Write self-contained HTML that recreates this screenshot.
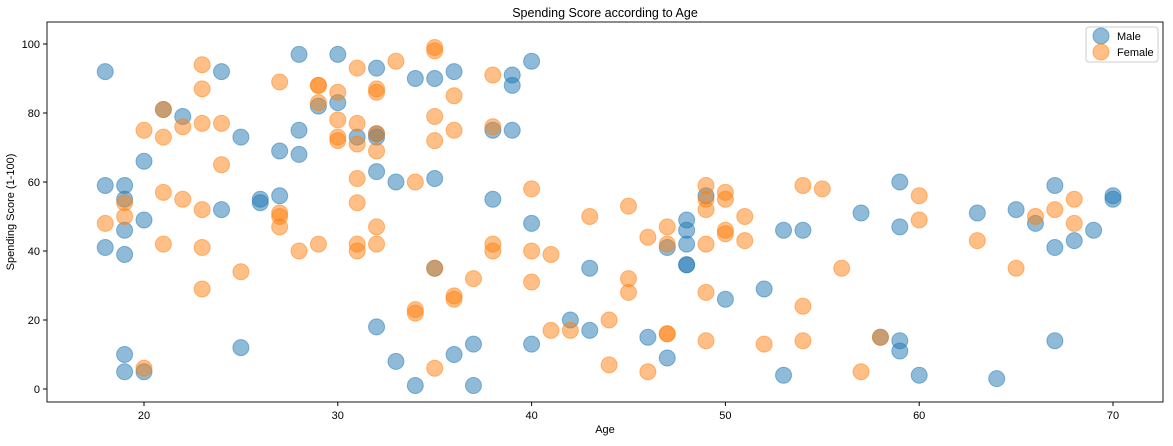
<!DOCTYPE html>
<html><head><meta charset="utf-8"><style>
body{margin:0;background:#fff;font-family:"Liberation Sans",sans-serif;}
svg text{font-family:"Liberation Sans",sans-serif;fill:#000;}
</style></head><body>
<svg width="1173" height="441">
<rect x="0" y="0" width="1173" height="441" fill="#fff"></rect>
<text x="605" y="17" text-anchor="middle" font-size="12.5">Spending Score according to Age</text>
<g id="plot"></g>
<rect x="47" y="22" width="1116" height="380" fill="none" stroke="#000" stroke-width="0.9"></rect>
<g id="axes"></g>
<text x="605" y="433" text-anchor="middle" font-size="11">Age</text>
<text transform="translate(14,212) rotate(-90)" text-anchor="middle" font-size="11">Spending Score (1-100)</text>
<g>
<rect x="1086" y="27" width="72" height="35" rx="3" fill="#fff" stroke="#ccc"></rect>
<g><circle cx="1101" cy="36" r="8" fill="#1f77b4" fill-opacity="0.5" stroke="#1f77b4" stroke-opacity="0.5"></circle><text x="1117" y="40" font-size="11">Male</text></g>
<g><circle cx="1101" cy="52" r="8" fill="#ff7f0e" fill-opacity="0.5" stroke="#ff7f0e" stroke-opacity="0.5"></circle><text x="1117" y="56" font-size="11">Female</text></g>
</g>
</svg>
<script>
const xTicks=[20,30,40,50,60,70];
const yTicks=[0,20,40,60,80,100];
const maleAge=[18,18,18,19,19,19,19,19,19,20,20,20,21,22,24,24,25,25,26,26,27,27,28,28,28,29,30,30,31,32,32,32,32,32,33,33,34,34,35,35,35,36,36,37,37,38,38,39,39,39,40,40,40,42,43,43,46,47,47,48,48,48,48,48,49,50,52,53,53,54,57,58,59,59,59,59,60,63,64,65,66,67,67,67,68,69,70,70];
const maleScore=[92,59,41,55,59,46,39,10,5,66,49,5,81,79,92,52,73,12,55,54,69,56,97,75,68,82,97,83,73,93,74,73,63,18,60,8,90,1,90,61,35,92,10,13,1,75,55,91,88,75,95,48,13,20,35,17,15,41,9,49,46,42,36,36,56,26,29,46,4,46,51,15,60,47,14,11,4,51,3,52,48,59,41,14,43,46,56,55];
const femaleAge=[18,19,19,20,20,21,21,21,21,22,22,23,23,23,23,23,23,24,24,25,27,27,27,27,28,29,29,29,29,30,30,30,30,31,31,31,31,31,31,31,32,32,32,32,32,32,33,34,34,34,35,35,35,35,35,35,36,36,36,36,37,38,38,38,38,40,40,40,41,41,42,43,44,44,45,45,45,46,46,47,47,47,47,49,49,49,49,49,49,50,50,50,50,51,51,52,54,54,54,55,56,57,58,60,60,63,65,66,67,68,68];
const femaleScore=[48,54,50,75,6,81,73,57,42,76,55,94,87,77,52,41,29,77,65,34,89,51,50,47,40,88,88,83,42,86,78,73,72,93,77,71,61,54,42,40,87,86,74,69,47,42,95,60,23,22,99,98,79,72,35,6,85,75,27,26,32,91,76,42,40,58,40,31,39,17,17,50,20,7,53,32,28,44,5,47,42,16,16,59,55,52,42,28,14,57,55,46,45,50,43,13,59,24,14,58,35,5,15,56,49,43,35,50,52,55,48];
const NS='http://www.w3.org/2000/svg';
const X=v=>144+(v-20)*19.38;
const Y=v=>389-v*3.45;
const plot=document.getElementById('plot'),axes=document.getElementById('axes');
function mk(t,a,p){const e=document.createElementNS(NS,t);for(const k in a)e.setAttribute(k,a[k]);p.appendChild(e);return e;}
function series(ages,scores,col,name){
  ages.forEach((a,i)=>{
    const c=mk('circle',{cx:X(a),cy:Y(scores[i]),r:8,fill:col,'fill-opacity':0.5,stroke:col,'stroke-opacity':0.5},plot);
    
    
  });
}
series(maleAge,maleScore,'#1f77b4','male-point');
series(femaleAge,femaleScore,'#ff7f0e','female-point');
xTicks.forEach(t=>{
  const l=mk('line',{x1:X(t),x2:X(t),y1:402,y2:406,stroke:'#000'},axes);
  
  
  const s=mk('text',{x:X(t),y:419,'text-anchor':'middle','font-size':11},axes);s.textContent=t;
  
  
});
yTicks.forEach(t=>{
  const l=mk('line',{x1:43,x2:47,y1:Y(t),y2:Y(t),stroke:'#000'},axes);
  
  
  const s=mk('text',{x:40,y:Y(t)+4,'text-anchor':'end','font-size':11},axes);s.textContent=t;
  
  
});
</script>
</body></html>
